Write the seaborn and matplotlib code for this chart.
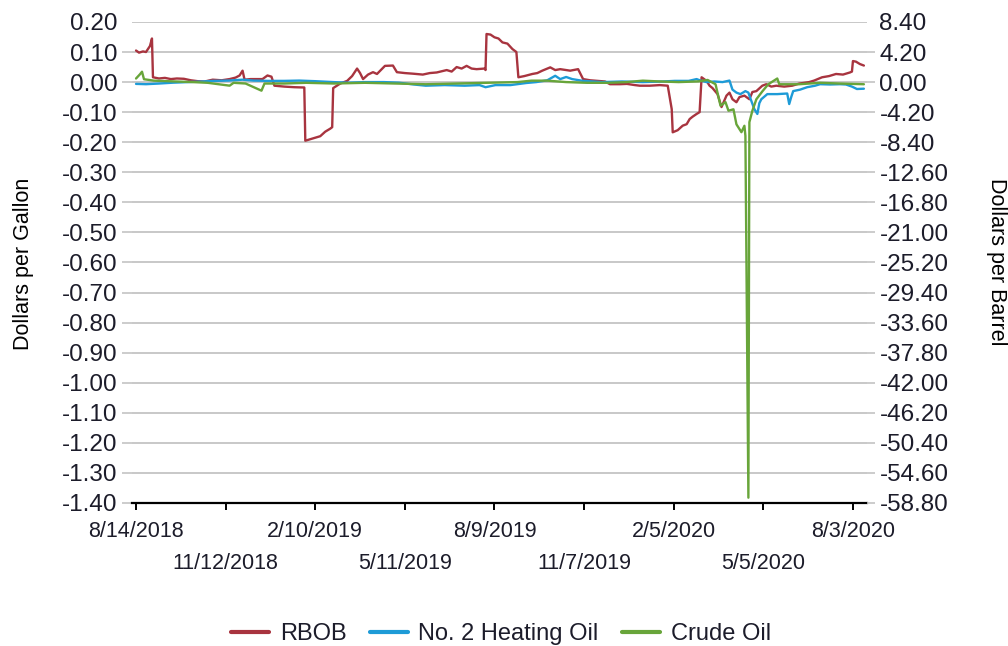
import matplotlib
matplotlib.use("Agg")
import matplotlib.pyplot as plt
import matplotlib.ticker as mticker
import matplotlib.dates as mdates
import numpy as np
import pandas as pd
import seaborn as sns

# ---- data -------------------------------------------------------------
rbob_dates = [
    "2018-08-14", "2018-08-17", "2018-08-21", "2018-08-24", "2018-08-28", "2018-08-30",
    "2018-08-31", "2018-09-06", "2018-09-12", "2018-09-18", "2018-09-24", "2018-10-01",
    "2018-10-08", "2018-10-15", "2018-10-22", "2018-10-30", "2018-11-08", "2018-11-16",
    "2018-11-22", "2018-11-26", "2018-11-29", "2018-12-01", "2018-12-07", "2018-12-14",
    "2018-12-19", "2018-12-24", "2018-12-28", "2018-12-31", "2019-01-10", "2019-01-20",
    "2019-01-30", "2019-01-31", "2019-02-05", "2019-02-10", "2019-02-15", "2019-02-20",
    "2019-02-25", "2019-02-27", "2019-02-28", "2019-03-07", "2019-03-14", "2019-03-19",
    "2019-03-24", "2019-03-27", "2019-03-30", "2019-04-04", "2019-04-09", "2019-04-13",
    "2019-04-21", "2019-04-29", "2019-05-03", "2019-05-11", "2019-05-19", "2019-05-29",
    "2019-06-05", "2019-06-12", "2019-06-22", "2019-06-27", "2019-07-02", "2019-07-07",
    "2019-07-12", "2019-07-17", "2019-07-22", "2019-07-30", "2019-07-31", "2019-08-01",
    "2019-08-05", "2019-08-09", "2019-08-13", "2019-08-17", "2019-08-22", "2019-08-27",
    "2019-08-31", "2019-09-02", "2019-09-08", "2019-09-16", "2019-09-21", "2019-09-26",
    "2019-10-04", "2019-10-09", "2019-10-14", "2019-10-24", "2019-11-01", "2019-11-03",
    "2019-11-06", "2019-11-13", "2019-11-20", "2019-11-28", "2019-12-03", "2019-12-13",
    "2019-12-20", "2019-12-28", "2020-01-02", "2020-01-12", "2020-01-22", "2020-01-30",
    "2020-02-03", "2020-02-04", "2020-02-09", "2020-02-14", "2020-02-18", "2020-02-21",
    "2020-02-24", "2020-02-28", "2020-03-02", "2020-03-04", "2020-03-09", "2020-03-12",
    "2020-03-15", "2020-03-20", "2020-03-24", "2020-03-27", "2020-03-29", "2020-04-01",
    "2020-04-04", "2020-04-08", "2020-04-11", "2020-04-16", "2020-04-21", "2020-04-24",
    "2020-04-28", "2020-05-04", "2020-05-08", "2020-05-13", "2020-05-18", "2020-05-26",
    "2020-06-03", "2020-06-10", "2020-06-20", "2020-06-25", "2020-07-03", "2020-07-10",
    "2020-07-17", "2020-07-24", "2020-07-31", "2020-08-02", "2020-08-03", "2020-08-06",
    "2020-08-10", "2020-08-14",
]
rbob_values = [
    0.105, 0.098, 0.102, 0.100, 0.120, 0.145,
    0.016, 0.012, 0.014, 0.010, 0.012, 0.011,
    0.006, 0.003, 0.002, 0.008, 0.006, 0.010,
    0.015, 0.022, 0.038, 0.008, 0.010, 0.010,
    0.010, 0.022, 0.018, -0.012, -0.015, -0.017,
    -0.018, -0.195, -0.190, -0.185, -0.180, -0.165,
    -0.155, -0.150, -0.020, -0.005, 0.004, 0.020,
    0.045, 0.030, 0.010, 0.025, 0.033, 0.027,
    0.054, 0.055, 0.033, 0.030, 0.028, 0.025,
    0.030, 0.032, 0.040, 0.035, 0.050, 0.045,
    0.054, 0.045, 0.043, 0.045, 0.040, 0.160,
    0.158, 0.149, 0.145, 0.132, 0.128, 0.110,
    0.100, 0.016, 0.020, 0.027, 0.030, 0.038,
    0.049, 0.040, 0.043, 0.038, 0.043, 0.030,
    0.010, 0.006, 0.004, 0.002, -0.007, -0.007,
    -0.006, -0.010, -0.012, -0.012, -0.010, -0.012,
    -0.090, -0.167, -0.160, -0.145, -0.140, -0.123,
    -0.115, -0.106, -0.100, 0.016, 0.004, -0.012,
    -0.020, -0.040, -0.083, -0.060, -0.045, -0.035,
    -0.057, -0.067, -0.050, -0.045, -0.057, -0.033,
    -0.030, -0.012, -0.007, -0.015, -0.012, -0.015,
    -0.012, -0.005, 0.000, 0.005, 0.016, 0.020,
    0.027, 0.025, 0.032, 0.035, 0.070, 0.068,
    0.060, 0.055,
]

heating_dates = [
    "2018-08-14", "2018-08-24", "2018-09-05", "2018-09-20", "2018-10-05", "2018-10-20",
    "2018-10-30", "2018-11-15", "2018-11-29", "2018-12-10", "2018-12-25", "2019-01-10",
    "2019-01-25", "2019-02-10", "2019-02-28", "2019-03-15", "2019-04-01", "2019-04-20",
    "2019-05-05", "2019-05-20", "2019-06-01", "2019-06-20", "2019-07-10", "2019-07-25",
    "2019-07-31", "2019-08-10", "2019-08-25", "2019-09-10", "2019-09-20", "2019-10-01",
    "2019-10-09", "2019-10-14", "2019-10-20", "2019-10-26", "2019-11-06", "2019-11-25",
    "2019-12-15", "2020-01-05", "2020-01-25", "2020-02-06", "2020-02-20", "2020-02-28",
    "2020-03-03", "2020-03-09", "2020-03-17", "2020-03-25", "2020-04-01", "2020-04-04",
    "2020-04-08", "2020-04-12", "2020-04-17", "2020-04-20", "2020-04-21", "2020-04-26",
    "2020-04-29", "2020-05-01", "2020-05-03", "2020-05-09", "2020-05-19", "2020-05-29",
    "2020-05-31", "2020-06-02", "2020-06-04", "2020-06-11", "2020-06-18", "2020-06-26",
    "2020-07-01", "2020-07-11", "2020-07-21", "2020-07-27", "2020-08-02", "2020-08-07",
    "2020-08-14",
]
heating_values = [
    -0.006, -0.007, -0.005, -0.002, 0.000, 0.002,
    0.004, 0.005, 0.008, 0.005, 0.004, 0.004,
    0.005, 0.003, 0.000, -0.002, 0.000, 0.000,
    -0.002, -0.008, -0.012, -0.010, -0.012, -0.010,
    -0.017, -0.010, -0.010, -0.003, 0.000, 0.006,
    0.021, 0.010, 0.017, 0.010, 0.004, 0.000,
    0.002, 0.000, 0.002, 0.004, 0.004, 0.010,
    0.005, 0.000, 0.002, 0.000, 0.005, -0.025,
    -0.035, -0.040, -0.030, -0.035, -0.045, -0.090,
    -0.106, -0.070, -0.057, -0.040, -0.040, -0.038,
    -0.073, -0.050, -0.030, -0.025, -0.017, -0.012,
    -0.007, -0.008, -0.007, -0.008, -0.015, -0.023,
    -0.022,
]

crude_dates = [
    "2018-08-14", "2018-08-18", "2018-08-20", "2018-08-22", "2018-09-01", "2018-09-20",
    "2018-10-10", "2018-10-25", "2018-11-16", "2018-11-20", "2018-12-02", "2018-12-18",
    "2018-12-21", "2019-01-10", "2019-02-01", "2019-03-01", "2019-04-01", "2019-05-01",
    "2019-06-01", "2019-07-01", "2019-08-01", "2019-09-01", "2019-09-15", "2019-10-01",
    "2019-10-20", "2019-11-10", "2019-12-01", "2019-12-20", "2020-01-05", "2020-01-20",
    "2020-02-10", "2020-03-01", "2020-03-10", "2020-03-18", "2020-03-23", "2020-03-28",
    "2020-03-31", "2020-04-05", "2020-04-08", "2020-04-13", "2020-04-16", "2020-04-17",
    "2020-04-20", "2020-04-21", "2020-04-24", "2020-04-28", "2020-05-04", "2020-05-10",
    "2020-05-19", "2020-05-21", "2020-06-10", "2020-07-01", "2020-07-20", "2020-08-14",
]
crude_values = [
    0.5, 1.1, 1.45, 0.4, 0.2, 0.1,
    0.0, -0.1, -0.5, -0.1, -0.2, -1.2,
    -0.2, -0.2, -0.1, -0.2, -0.1, -0.2,
    -0.3, -0.2, -0.1, 0.0, 0.2, 0.2,
    0.0, -0.1, -0.1, 0.0, 0.2, 0.1,
    0.0, 0.1, 0.3, -0.3, -3.3, -2.8,
    -4.0, -3.8, -5.9, -7.0, -6.1, -7.5,
    -58.06, -5.6, -4.0, -2.4, -1.3, -0.3,
    0.5, -0.3, -0.3, -0.1, -0.2, -0.3,
]

tick_dates = [
    "2018-08-14", "2018-11-12", "2019-02-10", "2019-05-11", "2019-08-09",
    "2019-11-07", "2020-02-05", "2020-05-05", "2020-08-03",
]
gallon_ticks = [0.20, 0.10, 0.00, -0.10, -0.20, -0.30, -0.40, -0.50, -0.60,
                -0.70, -0.80, -0.90, -1.00, -1.10, -1.20, -1.30, -1.40]
barrel_ticks = [8.40, 4.20, 0.00, -4.20, -8.40, -12.60, -16.80, -21.00, -25.20,
                -29.40, -33.60, -37.80, -42.00, -46.20, -50.40, -54.60, -58.80]

series_names = ["RBOB", "No. 2 Heating Oil", "Crude Oil"]
series_colors = ["#A8343F", "#1E9BD7", "#68A53A"]

# ---- styling ----------------------------------------------------------
sns.set_theme(style="white")
plt.rcParams["font.family"] = ["Liberation Sans", "DejaVu Sans"]
plt.rcParams["font.size"] = 15
text_color = "#1c1c2a"
grid_color = "#c4c4c4"

fig = plt.figure(figsize=(10.08, 6.46), dpi=100)
ax = fig.add_axes([0.131, 0.2214, 0.729, 0.7446])
ax2 = ax.twinx()

rbob = pd.DataFrame({"date": pd.to_datetime(rbob_dates), "value": rbob_values})
heat = pd.DataFrame({"date": pd.to_datetime(heating_dates), "value": heating_values})
crude = pd.DataFrame({"date": pd.to_datetime(crude_dates), "value": crude_values})

sns.lineplot(data=rbob, x="date", y="value", ax=ax, color=series_colors[0],
             linewidth=1.7, label=series_names[0])
sns.lineplot(data=heat, x="date", y="value", ax=ax, color=series_colors[1],
             linewidth=1.7, label=series_names[1])
sns.lineplot(data=crude, x="date", y="value", ax=ax2, color=series_colors[2],
             linewidth=1.7, label=series_names[2])
for a in (ax, ax2):
    if a.get_legend() is not None:
        a.get_legend().remove()
    a.set_xlabel("")
    a.set_ylabel("")

# y scales: barrels are 42 gallons, so the right axis mirrors the left
ax.set_ylim(min(gallon_ticks), max(gallon_ticks))
ax2.set_ylim(min(barrel_ticks), max(barrel_ticks))
ax.yaxis.set_major_locator(mticker.FixedLocator(gallon_ticks))
ax.yaxis.set_major_formatter(mticker.FuncFormatter(lambda v, p: f"{v:.2f}"))
ax2.yaxis.set_major_locator(mticker.FixedLocator(barrel_ticks))
ax2.yaxis.set_major_formatter(mticker.FuncFormatter(lambda v, p: f"{v:.2f}"))

# x axis: date ticks every 90 days, labels staggered on two rows
ticks = pd.to_datetime(tick_dates)
labels = [f"{t.month}/{t.day}/{t.year}" for t in ticks]
tick_nums = mdates.date2num(ticks)
ax.set_xlim(pd.Timestamp("2018-08-10"), pd.Timestamp("2020-08-17"))
ax.xaxis.set_major_locator(mticker.FixedLocator(tick_nums[0::2]))
ax.xaxis.set_major_formatter(mticker.FixedFormatter(labels[0::2]))
ax.xaxis.set_minor_locator(mticker.FixedLocator(tick_nums[1::2]))
ax.xaxis.set_minor_formatter(mticker.FixedFormatter(labels[1::2]))

ax.yaxis.grid(True, color=grid_color, linewidth=1.3)
ax.xaxis.grid(False)
ax.set_axisbelow(True)

for a in (ax, ax2):
    for s in a.spines.values():
        s.set_visible(False)
ax.spines["bottom"].set_visible(True)
ax.spines["bottom"].set_color("black")
ax.spines["bottom"].set_linewidth(1.6)

ax.tick_params(axis="y", length=7.5, width=1.2, color=grid_color, pad=3,
               labelsize=17.5, labelcolor=text_color, left=True)
ax2.tick_params(axis="y", length=6, width=1.2, color=grid_color, pad=3,
                labelsize=17.5, labelcolor=text_color, right=True)
ax.tick_params(axis="x", which="major", length=5, width=1.4, color="black", pad=8,
               labelsize=15.5, labelcolor=text_color, bottom=True)
ax.tick_params(axis="x", which="minor", length=5, width=1.4, color="black", pad=31,
               labelsize=15.5, labelcolor=text_color, bottom=True)
ax.yaxis.get_major_ticks()[0].tick1line.set_visible(False)
ax2.yaxis.get_major_ticks()[0].tick2line.set_visible(False)

fig.text(24 / 1008, 1 - 264 / 646, "Dollars per Gallon", rotation=90,
         ha="center", va="center", fontsize=15.5, color="black")
fig.text(997 / 1008, 1 - 262 / 646, "Dollars per Barrel", rotation=270,
         ha="center", va="center", fontsize=15.5, color="black")

handles = ax.get_lines()[:2] + ax2.get_lines()[:1]
leg = fig.legend(handles, series_names, loc="center", ncol=3, frameon=False,
                 bbox_to_anchor=(0.497, 1 - 634 / 646), fontsize=17,
                 handlelength=1.6, handletextpad=0.45, columnspacing=1.0)
for h in leg.legend_handles:
    h.set_linewidth(3)
for t in leg.get_texts():
    t.set_color(text_color)

fig.savefig("out.png", dpi=100)
